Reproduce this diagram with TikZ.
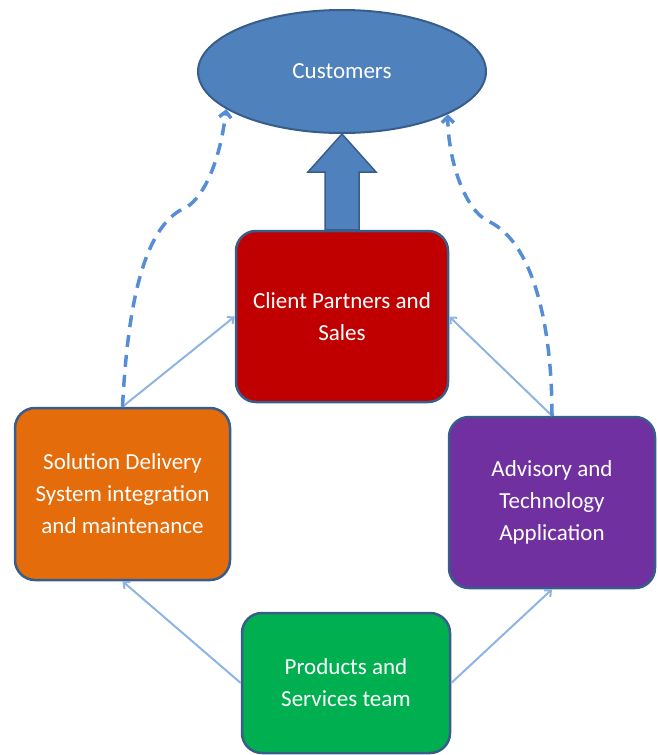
\documentclass[tikz,border=0pt]{standalone}
\usepackage{fontspec}
\setmainfont{Carlito}
\usetikzlibrary{arrows.meta, calc, positioning, shapes.geometric}
\definecolor{custblue}{HTML}{4F81BD}
\definecolor{edgeblue}{HTML}{385D8A}
\definecolor{linkblue}{HTML}{8EB4E3}
\definecolor{dashblue}{HTML}{558ED5}
\definecolor{salesred}{HTML}{C00000}
\definecolor{deliveryorange}{HTML}{E46C0A}
\definecolor{advisorypurple}{HTML}{7030A0}
\definecolor{productsgreen}{HTML}{00B050}

\begin{document}
\begin{tikzpicture}
			[x=1pt, y=-1pt,
			 unit/.style={draw=edgeblue, line width=2.5pt, rounded corners=20pt, text=white, align=center,
			   inner sep=0pt, font=\fontsize{23}{32}\selectfont},
			 link/.style={draw=linkblue, line width=2pt, -{Straight Barb[length=5pt, width=9pt]}},
			 feedback/.style={draw=dashblue, line width=3.5pt, dash pattern=on 12pt off 8pt,
			   -{Straight Barb[length=6pt, width=12pt]}}]
			\useasboundingbox (0,0) rectangle (657,755);
			
			\node[ellipse, draw=edgeblue, line width=2pt, fill=custblue, text=white, inner sep=0pt,
			  minimum width=288pt, minimum height=123pt, font=\fontsize{23}{32}\selectfont] (cust) at (342,71.5) {Customers};
			\node[unit, fill=salesred, minimum width=212pt, minimum height=171pt] (sales) at (342,316.5) {Client Partners and\\Sales};
			\node[unit, fill=deliveryorange, minimum width=215pt, minimum height=172pt] (delivery) at (122.5,494) {Solution Delivery\\System integration\\and maintenance};
			\node[unit, fill=advisorypurple, minimum width=206pt, minimum height=171pt] (advisory) at (552,502.5) {Advisory and\\Technology\\Application};
			\node[unit, fill=productsgreen, minimum width=208pt, minimum height=140pt] (products) at (346,683) {Products and\\Services team};
			
			\draw[edgeblue, line width=1.5pt, fill=custblue]
			  ($(sales.north)+(-17,0)$) -- ($(cust.south)+(-17,38)$) -- ($(cust.south)+(-34,38)$) -- (cust.south)
			  -- ($(cust.south)+(34,38)$) -- ($(cust.south)+(17,38)$) -- ($(sales.north)+(17,0)$) -- cycle;
			
			\draw[link] (delivery.north) -- (sales.west);
			\draw[link] (advisory.north) -- (sales.east);
			\draw[link] (products.west) -- (delivery.south);
			\draw[link] (products.east) -- (advisory.south);
			
			\coordinate (lbend) at (187,207);
			\coordinate (rbend) at (490,222);
			\draw[feedback] (delivery.north) .. controls (127,320) and (140,225) .. (lbend)
			  .. controls (205,195) and (220,160) .. (cust.198);
			\draw[feedback] (advisory.north) .. controls (552,330) and (535,245) .. (rbend)
			  .. controls (465,212) and (448,160) .. (cust.338);
			\end{tikzpicture}
\end{document}
